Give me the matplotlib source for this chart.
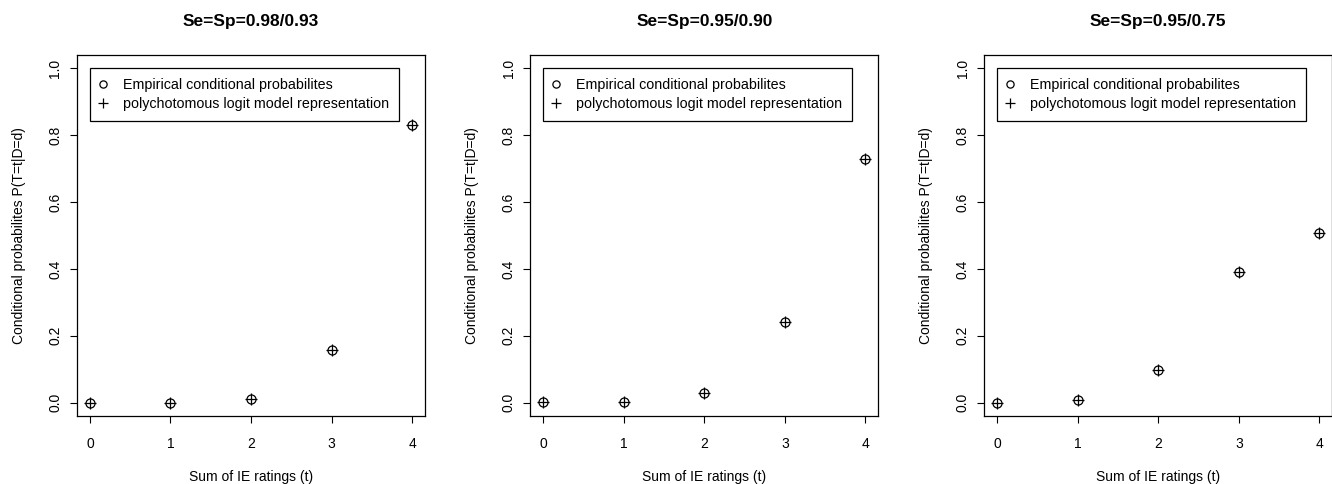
import matplotlib.pyplot as plt

plt.rcParams['font.family'] = ['Liberation Sans', 'DejaVu Sans']

# Datos
t = [0, 1, 2, 3, 4]
titles = ["Se=Sp=0.98/0.93", "Se=Sp=0.95/0.90", "Se=Sp=0.95/0.75"]
emp_a = [0.0, 0.0, 0.011, 0.158, 0.832]
emp_b = [0.001, 0.002, 0.029, 0.241, 0.729]
emp_c = [0.0, 0.008, 0.098, 0.391, 0.506]
model_a = [0.0, 0.0, 0.011, 0.158, 0.832]
model_b = [0.001, 0.002, 0.029, 0.241, 0.729]
model_c = [0.0, 0.008, 0.098, 0.391, 0.506]
yticks = [0.0, 0.2, 0.4, 0.6, 0.8, 1.0]

emp = [emp_a, emp_b, emp_c]
model = [model_a, model_b, model_c]
lefts = [77, 530.3, 984.3]

fig = plt.figure(figsize=(13.32, 4.84), dpi=100)

for i in range(3):
    ax = fig.add_axes([lefts[i] / 1332, 68 / 484, 348 / 1332, 361 / 484])
    ax.plot(t, emp[i], linestyle='none', marker='o', markersize=6.5,
            markerfacecolor='none', markeredgecolor='black', markeredgewidth=0.9,
            label="Empirical conditional probabilites")
    ax.plot(t, model[i], linestyle='none', marker='+', markersize=9,
            color='black', markeredgewidth=0.9,
            label="polychotomous logit model representation")
    ax.set_xlim(-0.16, 4.16)
    ax.set_ylim(-0.04, 1.04)
    ax.set_xticks(t)
    ax.set_yticks(yticks)
    ax.set_yticklabels([f"{v:.1f}" for v in yticks], rotation=90, va='center')
    ax.tick_params(direction='out', length=5, width=0.8, labelsize=10)
    ax.tick_params(axis='x', pad=10)
    ax.tick_params(axis='y', pad=5.5)
    for s in ax.spines.values():
        s.set_linewidth(0.9)
    ax.set_title(titles[i], fontsize=12.5, fontweight='bold', pad=21)
    ax.set_xlabel("Sum of IE ratings (t)", fontsize=10, labelpad=14)
    ax.set_ylabel("Conditional probabilites P(T=t|D=d)", fontsize=10, labelpad=16)
    leg = ax.legend(loc='upper left', bbox_to_anchor=(0, 1.0),
                    bbox_transform=ax.transData, borderaxespad=0,
                    fontsize=10.3, fancybox=False, framealpha=1,
                    handletextpad=1.2, handlelength=0.4, borderpad=0.7,
                    labelspacing=0.3, markerscale=0.8)
    leg.get_frame().set_edgecolor('black')
    leg.get_frame().set_linewidth(0.9)

plt.savefig("out.png", dpi=100)
